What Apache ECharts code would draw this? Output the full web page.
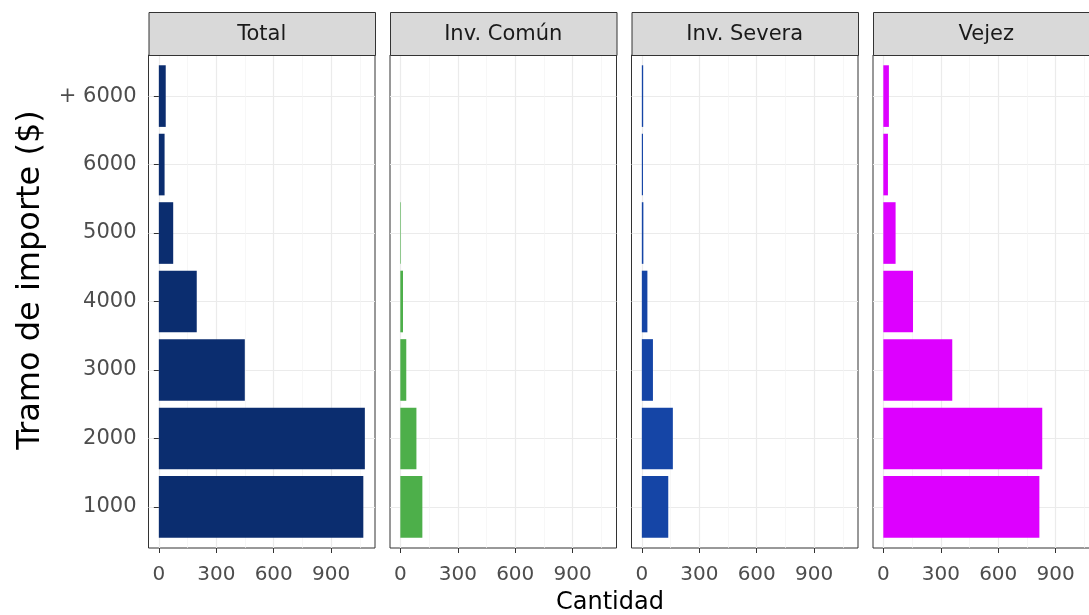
<!DOCTYPE html>
<html><head><meta charset="utf-8">
<script src="https://cdn.jsdelivr.net/npm/echarts@6/dist/echarts.min.js"></script>
<style>html,body{margin:0;padding:0;background:#fff}#c{width:1089px;height:615px}</style>
</head><body><div id="c"></div>
<script>
const categories = ['1000','2000','3000','4000','5000','6000','+ 6000'];
const panels = ['Total','Inv. Común','Inv. Severa','Vejez'];
const total = [1068,1076,449,198,75,30,36];
const invComun = [115,84,31,14,3,0,0];
const invSevera = [138,162,58,29,8,6,7];
const vejez = [815,830,360,155,64,24,29];
const xTicks = [0,300,600,900];
const xMinor = [150,450,750,1050];
const yTicks = [1,2,3,4,5,6,7];
const seriesValues = [total, invComun, invSevera, vejez];
const colors = ['#0B2D6F','#4DAF4A','#1545A6','#DD00FF'];

const FONT = 'DejaVu Sans';
const P_LEFT = 148.5, P_W = 226.5, P_STEP = 241.5, P_TOP = 55, P_H = 493;
const STRIP_TOP = 12;

const grids = [], xAxes = [], yAxes = [], series = [], graphics = [];
panels.forEach((name, i) => {
  const left = P_LEFT + i * P_STEP;
  grids.push({left: left, top: P_TOP, width: P_W, height: P_H, show: true,
    borderColor: '#333333', borderWidth: 1, backgroundColor: '#ffffff',
    containLabel: false, outerBoundsMode: 'none'});
  xAxes.push({type: 'value', gridIndex: i, min: -54, max: 1129,
    axisLine: {show: false},
    axisTick: {show: true, customValues: xTicks, length: 5, lineStyle: {color: '#333333', width: 1}},
    axisLabel: {show: true, customValues: xTicks, margin: 17, color: '#4D4D4D', fontSize: 20, fontFamily: FONT},
    splitLine: {show: true, lineStyle: {color: '#EBEBEB', width: 1.2}}
  });
  xAxes.push({type: 'value', gridIndex: i, min: -54, max: 1129, position: 'bottom',
    axisLine: {show: false},
    axisTick: {show: false, customValues: xMinor},
    axisLabel: {show: false},
    splitLine: {show: true, lineStyle: {color: '#F3F3F3', width: 0.7}}
  });
  yAxes.push({type: 'value', gridIndex: i, min: 0.4, max: 7.6,
    axisLine: {show: false},
    axisTick: {show: i === 0, customValues: yTicks, length: 5, lineStyle: {color: '#333333', width: 1}},
    axisLabel: {show: i === 0, customValues: yTicks, margin: 12, color: '#4D4D4D', fontSize: 21, fontFamily: FONT,
      formatter: v => categories[Math.round(v) - 1]},
    splitLine: {show: true, lineStyle: {color: '#EBEBEB', width: 1.2}}
  });
  const col = colors[i];
  series.push({type: 'custom', xAxisIndex: i * 2, yAxisIndex: i,
    data: seriesValues[i].map((v, k) => [v, k + 1]),
    encode: {x: 0, y: 1},
    renderItem: (params, api) => {
      const v = api.value(0), c = api.value(1);
      const p0 = api.coord([0, c]);
      const p1 = api.coord([v, c]);
      const h = api.size([0, 0.9])[1];
      return {type: 'rect', shape: {x: p0[0], y: p0[1] - h / 2, width: p1[0] - p0[0], height: h},
        style: {fill: col}};
    }
  });
  graphics.push({type: 'rect', left: left, top: STRIP_TOP,
    shape: {width: P_W, height: P_TOP - STRIP_TOP},
    style: {fill: '#D9D9D9', stroke: '#333333', lineWidth: 1}, z: 10});
  graphics.push({type: 'text', x: left + P_W / 2, y: (STRIP_TOP + P_TOP) / 2 + 1,
    style: {text: name, fill: '#1A1A1A', font: '21px "DejaVu Sans"', align: 'center', verticalAlign: 'middle'}, z: 11});
});
graphics.push({type: 'text', x: 610, y: 603,
  style: {text: 'Cantidad', fill: '#000000', font: '24px "DejaVu Sans"', align: 'center', verticalAlign: 'middle'}});
graphics.push({type: 'text', x: 31, y: 280, rotation: Math.PI / 2,
  style: {text: 'Tramo de importe ($)', fill: '#000000', font: '32px "DejaVu Sans"', align: 'center', verticalAlign: 'middle'}});

const chart = echarts.init(document.getElementById('c'), null, {renderer: 'canvas'});
chart.setOption({
  animation: false,
  backgroundColor: '#ffffff',
  grid: grids, xAxis: xAxes, yAxis: yAxes, series: series, graphic: graphics
});
</script></body></html>
